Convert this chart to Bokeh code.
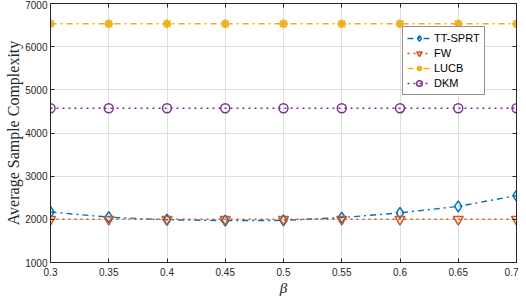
from bokeh.plotting import figure
from bokeh.models import FixedTicker, LinearAxis, Legend, LegendItem, Range1d, CustomJSTickFormatter
from bokeh.embed import file_html
from bokeh.resources import INLINE

beta = [0.3, 0.35, 0.4, 0.45, 0.5, 0.55, 0.6, 0.65, 0.7]
beta_labels = ["0.3", "0.35", "0.4", "0.45", "0.5", "0.55", "0.6", "0.65", "0.7"]
tt_sprt = [2170, 2050, 1990, 1970, 1975, 2040, 2150, 2300, 2550]
fw = [2000, 2000, 2000, 2000, 2000, 2000, 2000, 2000, 2000]
lucb = [6530, 6530, 6530, 6530, 6530, 6530, 6530, 6530, 6530]
dkm = [4575, 4575, 4575, 4575, 4575, 4575, 4575, 4575, 4575]
y_ticks = [1000, 2000, 3000, 4000, 5000, 6000, 7000]

AX = "#262626"
TICKF = "Liberation Sans"
SERIF = "Liberation Serif"

p = figure(width=518, height=298, output_backend="svg", toolbar_location=None,
           x_range=Range1d(0.3, 0.7), y_range=Range1d(1000, 7000),
           min_border_left=50, min_border_right=2, min_border_top=3, min_border_bottom=36)
p.outline_line_color = AX
p.outline_line_width = 1
p.background_fill_color = "white"

p.xaxis.ticker = FixedTicker(ticks=beta)
p.xaxis.major_label_overrides = {b: l for b, l in zip(beta, beta_labels)}
p.yaxis.ticker = FixedTicker(ticks=y_ticks)
for ax in (p.xaxis[0], p.yaxis[0]):
    ax.axis_line_color = AX
    ax.major_tick_line_color = AX
    ax.major_tick_in = 4
    ax.major_tick_out = 0
    ax.minor_tick_line_color = None
    ax.major_label_text_font = TICKF
    ax.major_label_text_font_size = "10px"
    ax.major_label_text_color = AX
    ax.axis_label_text_color = AX
    ax.axis_label_text_font = SERIF
    ax.axis_label_text_font_style = "normal"

p.xaxis.axis_label = "β"
p.xaxis.axis_label_text_font_size = "15px"
p.xaxis.axis_label_text_font_style = "italic"
p.xaxis.axis_label_standoff = 1
p.xaxis.major_label_standoff = 5
p.yaxis.axis_label = "Average Sample Complexity"
p.yaxis.axis_label_text_font_size = "16px"
p.yaxis.axis_label_standoff = 0
p.yaxis.major_label_standoff = 3

blank = CustomJSTickFormatter(code="return ''")
top = LinearAxis(ticker=FixedTicker(ticks=beta), formatter=blank,
                 major_tick_in=4, major_tick_out=0, minor_tick_line_color=None,
                 axis_line_color=AX, major_tick_line_color=AX, major_label_standoff=0)
right = LinearAxis(ticker=FixedTicker(ticks=y_ticks), formatter=blank,
                   major_tick_in=4, major_tick_out=0, minor_tick_line_color=None,
                   axis_line_color=AX, major_tick_line_color=AX, major_label_standoff=0)
p.add_layout(top, "above")
p.add_layout(right, "right")

p.xgrid.grid_line_color = "#dfdfdf"
p.ygrid.grid_line_color = "#dfdfdf"
p.xgrid.ticker = FixedTicker(ticks=beta)
p.ygrid.ticker = FixedTicker(ticks=y_ticks)

C1, C2, C3, C4 = "#0072BD", "#D95319", "#EDB120", "#7E2F8E"

l1 = p.line(beta, tt_sprt, line_color=C1, line_width=1.4, line_dash="dashdot")
m1 = p.scatter(beta, tt_sprt, marker="diamond", size=11, fill_color=None, line_color=C1, line_width=1.5)
l2 = p.line(beta, fw, line_color=C2, line_width=1.5, line_dash="dotted")
m2 = p.scatter(beta, fw, marker="inverted_triangle", size=10, fill_color=None, line_color=C2, line_width=1.5)
l3 = p.line(beta, lucb, line_color=C3, line_width=1.4, line_dash="dashdot")
m3 = p.scatter(beta, lucb, marker="asterisk", size=9, line_color=C3, line_width=2.2)
l4 = p.line(beta, dkm, line_color=C4, line_width=1.5, line_dash="dotted")
m4 = p.scatter(beta, dkm, marker="circle", size=9, fill_color=None, line_color=C4, line_width=1.5)

legend = Legend(items=[
    LegendItem(label="TT-SPRT", renderers=[l1, m1]),
    LegendItem(label="FW", renderers=[l2, m2]),
    LegendItem(label="LUCB", renderers=[l3, m3]),
    LegendItem(label="DKM", renderers=[l4, m4]),
], location=(352, 167))
legend.border_line_color = AX
legend.border_line_width = 1
legend.background_fill_color = "white"
legend.background_fill_alpha = 1
legend.label_text_font = TICKF
legend.label_text_font_size = "11px"
legend.label_text_color = "black"
legend.glyph_width = 24
legend.glyph_height = 14
legend.label_height = 14
legend.label_standoff = 3
legend.spacing = 1
legend.padding = 4
legend.margin = 0
p.add_layout(legend, "center")

open("out.html", "w").write(file_html(p, INLINE))
